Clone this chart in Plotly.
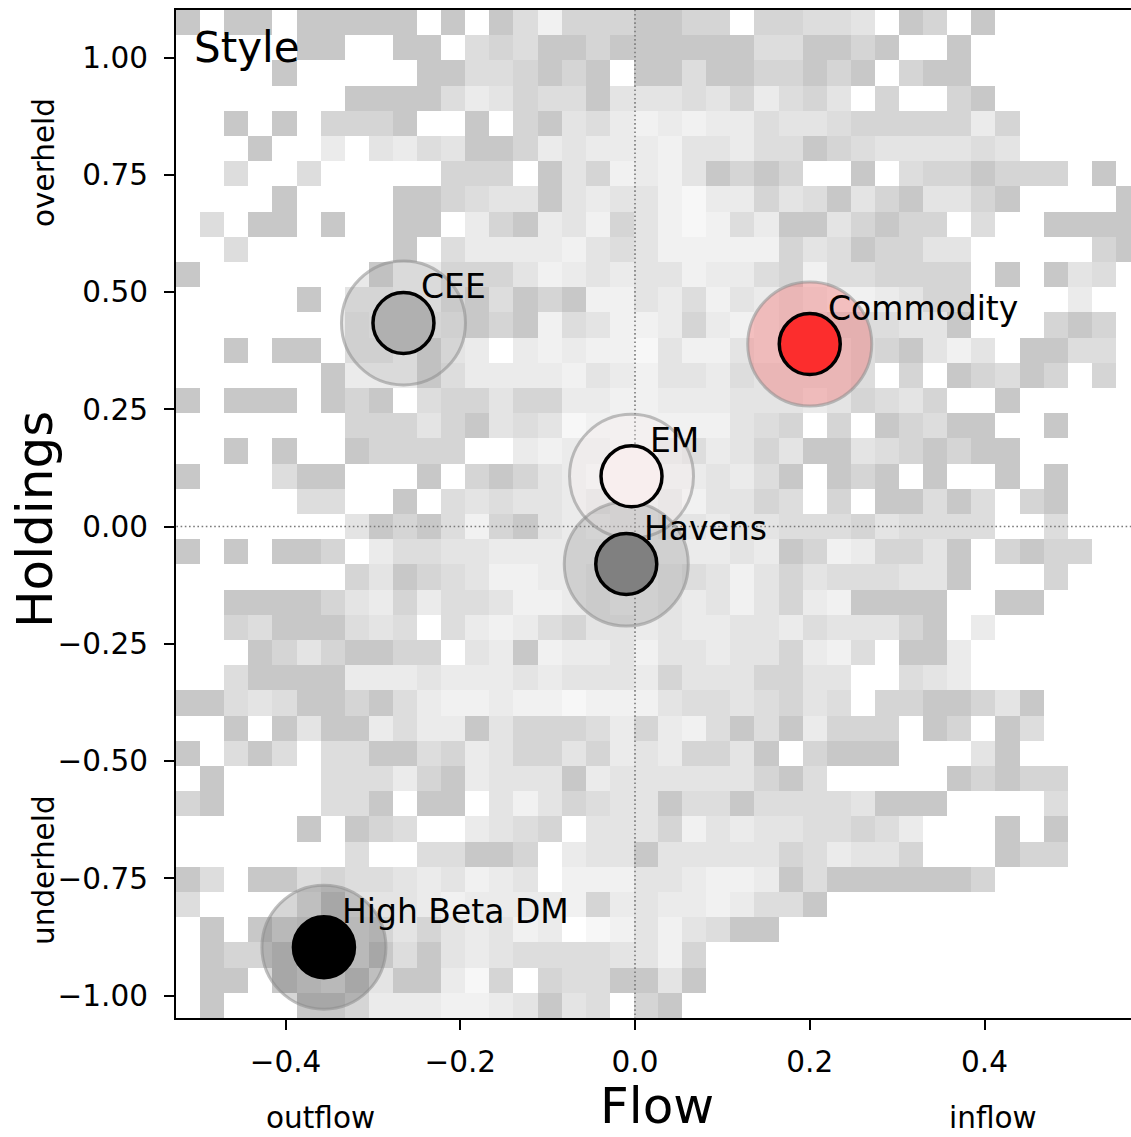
import numpy as np
import plotly.graph_objects as go

# ---------------- data ----------------
# 2-D histogram of style observations (Flow x Holdings), 40 x 40 bins
HIST_X_RANGE = (-0.5253, 0.5780)
HIST_Y_RANGE = (-1.0480, 1.1013)
N_BINS = 40
# rows listed from the top (high holdings) down; '.' = empty bin,
# 1..7 = shade level of the bin (1 = darkest grey, 7 = near white)
HIST_ROWS = [
    "1.11.11111" ".1.1362221" "122.22334." "12.1......",
    ".....11..1" "1.32311211" "1111331121" "..1.......",
    "....1....." "11332121.1" "131122121." "211.......",
    ".......111" "1354233144" "43425324.2" "..21......",
    "..1.1.2221" "..1.214356" "5655344322" "22252.....",
    "...1..5.45" "3411254555" "6445331234" "44434.....",
    "..3..3...." ".222.14265" "641212..1." "3221222.1.",
    "....1....1" "1234414544" "6755243142" "14421....1",
    ".3.11.1..1" "1.52154624" "6763511421" "22.3..1111",
    "..3......1" ".355556434" "6666624312" "244.....21",
    "1.......15" "5222465454" "4655326332" "222.1.143.",
    ".....1.445" "5213121664" "5364545665" "422....5..",
    ".......344" "4312163466" "5256544333" "441...212.",
    "..1.11.335" "145.565667" "4664555432" "1464.1133.",
    "......1555" "1355556456" "445344443." "2.12312.2.",
    "1.111.121." "3224225566" "5554445423" "42..1.....",
    ".......222" "4214347666" "666432.2.1" "2311..1...",
    "..1.1..122" "22..565566" "4354241143" "21211.....",
    "1...311..." "1.21245666" "554531.121" ".1..1.1...",
    ".....33..1" ".343445455" "464423.2.1" "1313.21...",
    ".......412" "1362145655" "4454433324" "3333..3...",
    "1.1.112.53" "3445555545" "5554512652" "241.2122..",
    ".......241" "2346655455" "4346424333" "441...2...",
    "..11112452" "5334665455" "4546425611" "11..11....",
    "..23111343" ".356532445" "4554453444" "21.5......",
    "...1242112" "2.45165546" "445442563." "115.......",
    "..31111555" "4555454445" "24442244.." "345.......",
    "1134311213" "5665667666" "43343243.2" "211241....",
    "..1.141153" "5514222352" "5631315222" ".12.13....",
    "1.313.3311" "3254224254" "52241.2111" "...41.....",
    ".1....3335" "2154441544" "4444213..." "..12122...",
    "21....331." "11.4642344" "1331333341" "11....3...",
    ".....1.123" "..5432.444" "2645443323" "5...1.1...",
    ".......3.." "33112.5441" "4444423544" "2...122...",
    "13.1132334" "54654.6664" "4566513111" "1112......",
    "3....41444" "5655556254" "5565331..." "..........",
    ".1.1321324" "245465.764" "64311....." "..........",
    ".122133313" "1454333344" "62........" "..........",
    ".11.123141" "1572.23311" "41........" "..........",
    ".1...11255" "56654143.2" "1........." "..........",
]
SHADE_GRAY = {1: 200, 2: 213, 3: 221, 4: 228, 5: 235, 6: 241, 7: 247}

# style centroids
STYLE_NAMES = ["CEE", "Commodity", "EM", "Havens", "High Beta DM"]
STYLE_FLOW = [-0.265, 0.200, -0.004, -0.010, -0.356]
STYLE_HOLDINGS = [0.434, 0.389, 0.107, -0.080, -0.897]
STYLE_COLORS = [(176, 176, 176), (252, 45, 45), (248, 238, 238), (128, 128, 128), (0, 0, 0)]
HALO_ALPHA = [0.28, 0.25, 0.30, 0.25, 0.16]

X_TICKS = [-0.4, -0.2, 0.0, 0.2, 0.4]
X_TICK_TEXT = ["\u22120.4", "\u22120.2", "0.0", "0.2", "0.4"]
Y_TICKS = [-1.0, -0.75, -0.5, -0.25, 0.0, 0.25, 0.5, 0.75, 1.0]
Y_TICK_TEXT = ["\u22121.00", "\u22120.75", "\u22120.50", "\u22120.25", "0.00",
               "0.25", "0.50", "0.75", "1.00"]

# ---------------- layout geometry ----------------
W, H = 1131, 1137
ML, MR, MT, MB = 176, 0, 10, 119
PW, PH = W - ML - MR, H - MT - MB
X_RANGE = [-0.52532, 0.56766]
Y_RANGE = [-1.04797, 1.10128]
FONT = "DejaVu Sans"


def px_to_paper_x(px):
    return (px - ML) / PW


def py_to_paper_y(py):
    return (H - MB - py) / PH


# ---------------- build histogram grid ----------------
z = np.full((N_BINS, N_BINS), np.nan)
for r, row in enumerate(HIST_ROWS):
    row = (row + "." * N_BINS)[:N_BINS]
    for c, ch in enumerate(row):
        if ch != ".":
            z[N_BINS - 1 - r, c] = int(ch)
xe = np.linspace(HIST_X_RANGE[0], HIST_X_RANGE[1], N_BINS + 1)
ye = np.linspace(HIST_Y_RANGE[0], HIST_Y_RANGE[1], N_BINS + 1)
xc = (xe[:-1] + xe[1:]) / 2
yc = (ye[:-1] + ye[1:]) / 2

levels = sorted(SHADE_GRAY)
colorscale = [[(k - levels[0]) / (levels[-1] - levels[0]),
               "rgb({0},{0},{0})".format(SHADE_GRAY[k])] for k in levels]

fig = go.Figure()
fig.add_trace(go.Heatmap(x=xc, y=yc, z=z, colorscale=colorscale,
                         zmin=levels[0], zmax=levels[-1], showscale=False,
                         hoverinfo="skip", xgap=0, ygap=0))

# zero reference lines (dotted)
dot = dict(color="#7a7a7a", width=1.6, dash="1.6px,2.6px")
fig.add_trace(go.Scatter(x=[0, 0], y=[-5, 5], mode="lines", line=dot,
                         hoverinfo="skip", showlegend=False))
fig.add_trace(go.Scatter(x=[-5, 5], y=[0, 0], mode="lines", line=dot,
                         hoverinfo="skip", showlegend=False))

# halos
halo_fill = ["rgba({},{},{},{})".format(*c, a) for c, a in zip(STYLE_COLORS, HALO_ALPHA)]
fig.add_trace(go.Scatter(
    x=STYLE_FLOW, y=STYLE_HOLDINGS, mode="markers", hoverinfo="skip", showlegend=False,
    marker=dict(size=124, color=halo_fill,
                line=dict(color="rgba(140,140,140,0.55)", width=3))))
# centroids
fig.add_trace(go.Scatter(
    x=STYLE_FLOW, y=STYLE_HOLDINGS, mode="markers", showlegend=False,
    text=STYLE_NAMES, hoverinfo="text",
    marker=dict(size=61, color=["rgb({},{},{})".format(*c) for c in STYLE_COLORS],
                line=dict(color="black", width=3.5))))

annotations = []
for name, fx, hy in zip(STYLE_NAMES, STYLE_FLOW, STYLE_HOLDINGS):
    annotations.append(dict(x=fx, y=hy, xref="x", yref="y", text=name, showarrow=False,
                            xanchor="left", yanchor="middle", xshift=16, yshift=36,
                            font=dict(family=FONT, size=33, color="black")))

# panel title
annotations.append(dict(x=px_to_paper_x(192), y=py_to_paper_y(48), xref="paper", yref="paper",
                        text="Style", showarrow=False, xanchor="left", yanchor="middle",
                        font=dict(family=FONT, size=42, color="black")))
# axis titles
annotations.append(dict(x=px_to_paper_x(657), y=py_to_paper_y(1137), xref="paper", yref="paper",
                        text="Flow", showarrow=False, xanchor="center", yanchor="bottom",
                        font=dict(family=FONT, size=50, color="black")))
annotations.append(dict(x=px_to_paper_x(35), y=py_to_paper_y(520), xref="paper", yref="paper",
                        text="Holdings", showarrow=False, textangle=-90,
                        xanchor="center", yanchor="middle",
                        font=dict(family=FONT, size=50, color="black")))
# direction hints
for txt, px, py, ang in [("outflow", 320, 1118, 0), ("inflow", 993, 1118, 0),
                         ("overheld", 44, 163, -90), ("underheld", 44, 870, -90)]:
    annotations.append(dict(x=px_to_paper_x(px), y=py_to_paper_y(py), xref="paper", yref="paper",
                            text=txt, showarrow=False, textangle=ang,
                            xanchor="center", yanchor="middle",
                            font=dict(family=FONT, size=29.5, color="black")))

axis_common = dict(showgrid=False, zeroline=False, showline=True, linecolor="black",
                   linewidth=2.2, ticks="outside", ticklen=10, tickwidth=2.2,
                   tickcolor="black", tickfont=dict(family=FONT, size=29.5, color="black"))

fig.update_layout(
    width=W, height=H, margin=dict(l=ML, r=MR, t=MT, b=MB, autoexpand=False),
    paper_bgcolor="white", plot_bgcolor="white",
    font=dict(family=FONT, color="black"),
    showlegend=False, annotations=annotations,
    xaxis=dict(range=X_RANGE, tickvals=X_TICKS, ticktext=X_TICK_TEXT, mirror=True,
               ticklabelstandoff=6, **axis_common),
    yaxis=dict(range=Y_RANGE, tickvals=Y_TICKS, ticktext=Y_TICK_TEXT, mirror=False,
               ticklabelstandoff=10, **axis_common),
)

# remove the browser's default page margin so the figure sits at the window origin
fig.write_html("out.html",
               config={"displayModeBar": False},
               post_script="document.body.style.margin='0px';"
                           "document.body.style.overflow='hidden';")
